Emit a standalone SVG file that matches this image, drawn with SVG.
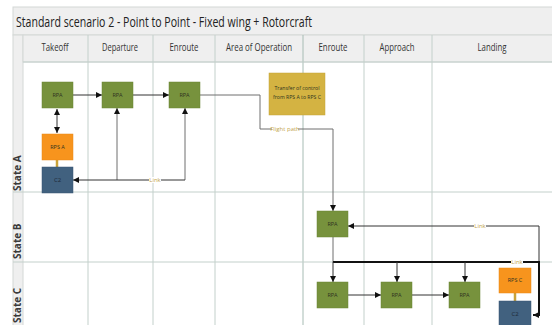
<svg xmlns="http://www.w3.org/2000/svg" width="552" height="325" viewBox="0 0 552 325">
  <style>
    .lane { fill: #efefef; stroke: #d4d8d6; stroke-width: 1; }
    .grid { stroke: #c3d0cb; stroke-width: 1; fill: none; }
    .title { font-family: "Open Sans", "Liberation Sans", sans-serif; font-size: 15px; fill: #222; }
    .hdr { font-family: "Open Sans", "Liberation Sans", sans-serif; font-size: 10.5px; fill: #333; text-anchor: middle; }
    .state { font-family: "Open Sans", "Liberation Sans", sans-serif; font-size: 10px; font-weight: bold; fill: #3a3a3a; }
    .rpa { fill: #77923d; stroke: #6a8436; stroke-width: 0.5; }
    .rps { fill: #f7941d; stroke: #e8891a; stroke-width: 0.5; }
    .c2 { fill: #41617f; stroke: #395673; stroke-width: 0.5; }
    .toc { fill: #d4b342; stroke: #c4a438; stroke-width: 0.5; }
    .ntext { font-family: "Open Sans", "Liberation Sans", sans-serif; font-size: 5.5px; fill: #2e3320; text-anchor: middle; }
    .ntext2 { font-family: "Open Sans", "Liberation Sans", sans-serif; font-size: 6px; fill: #1e2a38; text-anchor: middle; }
    .line { stroke: #333; stroke-width: 1; fill: none; }
    .gline { stroke: #6e6e6e; stroke-width: 1; fill: none; }
    .thick { stroke: #111; stroke-width: 2; fill: none; }
    .gold { stroke: #c9a33a; stroke-width: 2.5; fill: none; }
    .lbl { font-family: "Open Sans", "Liberation Sans", sans-serif; font-size: 6px; fill: #c3a44c; text-anchor: middle; }
    .lblbg { fill: #ffffff; }
  </style>
  <defs>
    <marker id="arrow" viewBox="0 0 6 6" refX="6" refY="3" markerWidth="6" markerHeight="6" markerUnits="userSpaceOnUse" orient="auto-start-reverse">
      <path d="M0,0 L6,3 L0,6 z" fill="#111"/>
    </marker>
  </defs>

  <rect width="552" height="325" fill="#ffffff"/>

  <!-- swimlane frame -->
  <g id="frame">
    <rect class="lane" x="13" y="7" width="545" height="28"/>
    <text class="title" x="16" y="27" textLength="296" lengthAdjust="spacingAndGlyphs">Standard scenario 2 - Point to Point - Fixed wing + Rotorcraft</text>
    <rect class="lane" x="13" y="35" width="10" height="300"/>
    <rect class="lane" x="23" y="35" width="535" height="27"/>
    <text class="hdr" x="55" y="51" textLength="27" lengthAdjust="spacingAndGlyphs">Takeoff</text>
    <text class="hdr" x="120" y="51" textLength="36" lengthAdjust="spacingAndGlyphs">Departure</text>
    <text class="hdr" x="184" y="51" textLength="29" lengthAdjust="spacingAndGlyphs">Enroute</text>
    <text class="hdr" x="259" y="51" textLength="66" lengthAdjust="spacingAndGlyphs">Area of Operation</text>
    <text class="hdr" x="333" y="51" textLength="29" lengthAdjust="spacingAndGlyphs">Enroute</text>
    <text class="hdr" x="397" y="51" textLength="35" lengthAdjust="spacingAndGlyphs">Approach</text>
    <text class="hdr" x="492" y="51" textLength="29" lengthAdjust="spacingAndGlyphs">Landing</text>
    <path class="grid" d="M88,35 V330 M153,35 V330 M215,35 V330 M364,35 V330 M432,35 V330"/>
    <path d="M303,35 V330" stroke="#a7bcb4" stroke-width="1" fill="none"/>
    <path class="grid" d="M23,62 H552 M13,192 H552 M13,262 H552"/>
    <text class="state" transform="translate(21,191) rotate(-90)">State A</text>
    <text class="state" transform="translate(21,259) rotate(-90)">State B</text>
    <text class="state" transform="translate(21,323) rotate(-90)">State C</text>
  </g>

  <!-- connectors -->
  <g id="connectors">
    <line class="line" x1="73" y1="95" x2="102" y2="95" marker-end="url(#arrow)"/>
    <line class="line" x1="133" y1="95" x2="169" y2="95" marker-end="url(#arrow)"/>
    <line class="line" x1="57" y1="109" x2="57" y2="133" marker-start="url(#arrow)" marker-end="url(#arrow)"/>
    <path class="gline" d="M117,180 V108" marker-end="url(#arrow)"/>
    <path class="gline" d="M185,180 V108" marker-end="url(#arrow)"/>
    <path class="line" d="M185,180 H73" marker-end="url(#arrow)"/>
    <rect class="lblbg" x="149" y="177" width="12" height="6"/>
    <text class="lbl" x="155" y="182">Link</text>
    <line class="gold" x1="57" y1="160" x2="57" y2="167"/>

    <path class="gline" d="M200,95 H260 V129 H333 V211" marker-end="url(#arrow)"/>
    <rect class="lblbg" x="272" y="126" width="26" height="6"/>
    <text class="lbl" x="285" y="131">Flight path</text>

    <path class="line" d="M539,226 H348" marker-end="url(#arrow)"/>
    <path class="line" d="M539,226 V262"/>
    <rect class="lblbg" x="474" y="223" width="12" height="6"/>
    <text class="lbl" x="480" y="228">Link</text>

    <path class="gline" d="M333,237 V262"/>
    <path class="thick" d="M333,262 H539 V315 H533" marker-end="url(#arrow)"/>
    <rect class="lblbg" x="511" y="259" width="12" height="6"/>
    <text class="lbl" x="517" y="264">Link</text>
    <path class="line" d="M333,262 V282" marker-end="url(#arrow)"/>
    <path class="line" d="M397,262 V282" marker-end="url(#arrow)"/>
    <path class="line" d="M465,262 V282" marker-end="url(#arrow)"/>

    <line class="line" x1="348" y1="295" x2="381" y2="295" marker-end="url(#arrow)"/>
    <line class="line" x1="412" y1="295" x2="449" y2="295" marker-end="url(#arrow)"/>
    <line class="gold" x1="515" y1="293" x2="515" y2="301"/>
  </g>

  <!-- nodes -->
  <g id="rpa-takeoff">
    <rect class="rpa" x="42" y="82" width="31" height="26"/>
    <text class="ntext" x="57.5" y="97">RPA</text>
  </g>
  <g id="rpa-departure">
    <rect class="rpa" x="102" y="82" width="31" height="26"/>
    <text class="ntext" x="117.5" y="97">RPA</text>
  </g>
  <g id="rpa-enroute">
    <rect class="rpa" x="169" y="82" width="31" height="26"/>
    <text class="ntext" x="184.5" y="97">RPA</text>
  </g>
  <g id="rps-a">
    <rect class="rps" x="42" y="134" width="31" height="26"/>
    <text class="ntext" x="57.5" y="149">RPS A</text>
  </g>
  <g id="c2-a">
    <rect class="c2" x="42" y="167" width="31" height="26"/>
    <text class="ntext2" x="57.5" y="182">C2</text>
  </g>
  <g id="transfer-of-control">
    <rect class="toc" x="269" y="73" width="56" height="42"/>
    <text class="ntext" x="297" y="90" font-size="6.5" textLength="45" lengthAdjust="spacingAndGlyphs">Transfer of control</text>
    <text class="ntext" x="297" y="99" font-size="6.5" textLength="48" lengthAdjust="spacingAndGlyphs">from RPS A to RPS C</text>
  </g>
  <g id="rpa-state-b">
    <rect class="rpa" x="317" y="211" width="31" height="26"/>
    <text class="ntext" x="332.5" y="226">RPA</text>
  </g>
  <g id="rpa-c-enroute">
    <rect class="rpa" x="317" y="282" width="31" height="26"/>
    <text class="ntext" x="332.5" y="297">RPA</text>
  </g>
  <g id="rpa-c-approach">
    <rect class="rpa" x="381" y="282" width="31" height="26"/>
    <text class="ntext" x="396.5" y="297">RPA</text>
  </g>
  <g id="rpa-c-landing">
    <rect class="rpa" x="449" y="282" width="31" height="26"/>
    <text class="ntext" x="464.5" y="297">RPA</text>
  </g>
  <g id="rps-c">
    <rect class="rps" x="499" y="268" width="32" height="25"/>
    <text class="ntext" x="515" y="282">RPS C</text>
  </g>
  <g id="c2-c">
    <rect class="c2" x="499" y="301" width="32" height="26"/>
    <text class="ntext2" x="515" y="316">C2</text>
  </g>
</svg>
